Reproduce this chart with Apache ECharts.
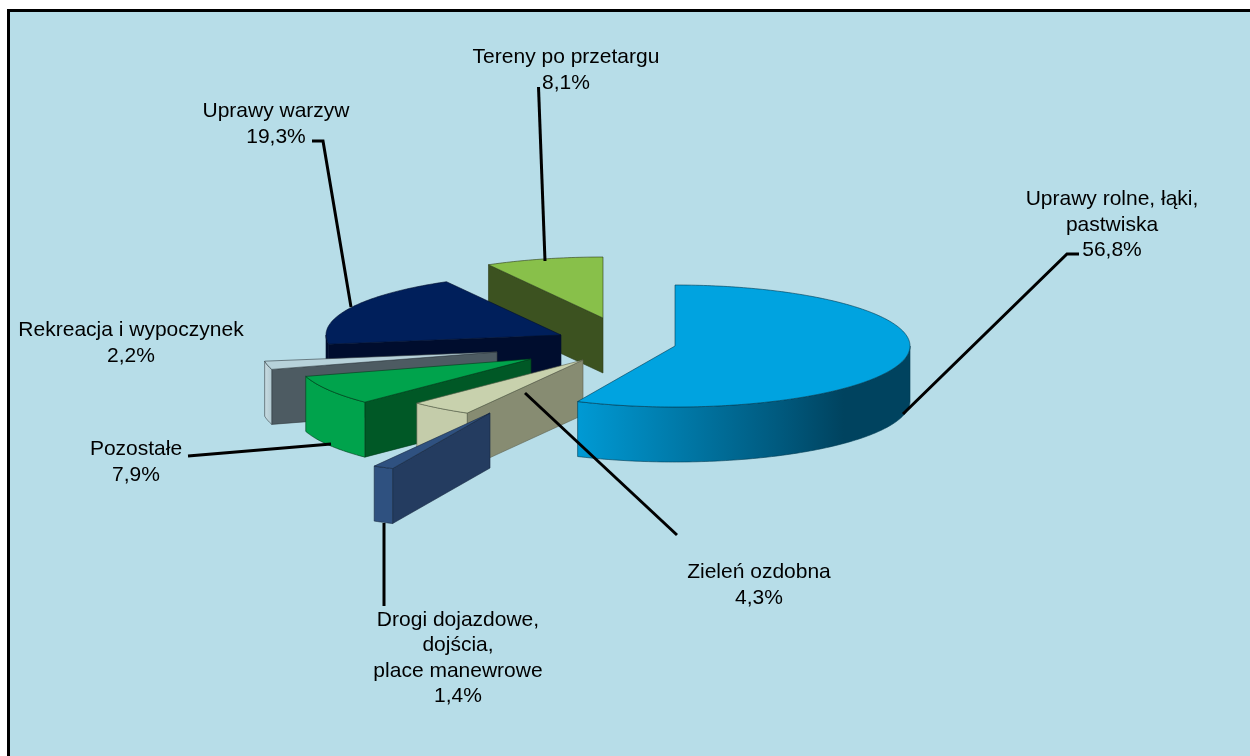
<!DOCTYPE html>
<html>
<head>
<meta charset="utf-8">
<style>html,body{margin:0;padding:0;background:#fff}#c{width:1250px;height:756px}</style>
<script src="https://cdn.jsdelivr.net/npm/echarts@6/dist/echarts.min.js"></script>
</head>
<body>
<div id="c"></div>
<script>
// --- data, clockwise from 12 o'clock, in pie order
const categories = ['Uprawy rolne, łąki,\npastwiska', 'Drogi dojazdowe,\ndojścia,\nplace manewrowe', 'Zieleń ozdobna', 'Pozostałe', 'Rekreacja i wypoczynek', 'Uprawy warzyw', 'Tereny po przetargu'];
const shares = [56.8, 1.4, 4.3, 7.9, 2.2, 19.3, 8.1];

// --- layout
const pie = { cx: 560, cy: 340, rx: 235, ry: 61, depth: 55 };
const explode = [[115, 6], [-70, 73], [23, 20], [-29, 19], [-63, 12], [1, -5], [43, -22]];
const paintOrder = [6, 5, 4, 3, 2, 0, 1];
const labelAt = [[1112, 225], [458, 658], [759, 585], [136, 462], [131, 343], [276, 124], [566, 70]];
const leaders = [
  [[1079, 254], [1067, 254], [903, 414]],
  [[384, 523], [384, 606]],
  [[525, 393], [677, 535]],
  [[188, 456], [331, 444]],
  null,
  [[312, 141], [323, 141], [351, 307]],
  [[538.5, 87], [545, 261]]
];
const colors = [
  { top: '#00a3e0', cut: '#004a68', edge: '#003a52', wall: [[0, '#009ad4'], [0.62, '#00587c'], [0.8, '#00435f'], [1, '#00435f']] },
  { top: '#2f5180', cut: '#243c60', edge: '#16263f', wall: [[0, '#2f5180'], [1, '#2f5180']] },
  { top: '#c8d1ad', cut: '#878c72', edge: '#5c604d', wall: [[0, '#c4ccaa'], [1, '#c4ccaa']] },
  { top: '#00a34c', cut: '#005826', edge: '#003d1a', wall: [[0, '#00a34c'], [1, '#00a34c']] },
  { top: '#b7d2da', cut: '#4d5b62', edge: '#333d42', wall: [[0, '#c9dde3'], [1, '#b0c8d0']] },
  { top: '#001f5b', cut: '#000d2e', edge: '#000d2e', wall: [[0, '#000d2e'], [1, '#000d2e']] },
  { top: '#88c04a', cut: '#3c5220', edge: '#2b3a17', wall: [[0, '#3c5220'], [1, '#3c5220']] }
];

// --- cumulative start / end angles, in degrees clockwise from the top
const total = shares.reduce((a, b) => a + b, 0);
let running = 0;
const spans = shares.map(v => { const a = running; running += v / total * 360; return [a, running]; });

function rimPoint(i, deg, drop) {
  const t = deg * Math.PI / 180;
  return [pie.cx + explode[i][0] + pie.rx * Math.sin(t), pie.cy + explode[i][1] - pie.ry * Math.cos(t) + drop];
}
function arc(i, from, to, drop) {
  const pts = [], n = Math.max(2, Math.ceil(to - from));
  for (let k = 0; k <= n; k++) pts.push(rimPoint(i, from + (to - from) * k / n, drop));
  return pts;
}
function face(points, fill, edge) {
  return { type: 'polygon', shape: { points }, style: { fill, stroke: edge, lineWidth: 0.6 } };
}
function renderSlice(params, api) {
  const i = api.value(0);
  const [a0, a1] = spans[i];
  const c = colors[i];
  const apex = [pie.cx + explode[i][0], pie.cy + explode[i][1]];
  const apexLow = [apex[0], apex[1] + pie.depth];
  const children = [];
  const side = a => [apex, rimPoint(i, a, 0), rimPoint(i, a, pie.depth), apexLow];
  if (Math.sin(a0 * Math.PI / 180) < -1e-6) children.push(face(side(a0), c.cut, c.edge));
  if (Math.sin(a1 * Math.PI / 180) > 1e-6) children.push(face(side(a1), c.cut, c.edge));
  const w0 = Math.max(a0, 90), w1 = Math.min(a1, 270);
  if (w1 > w0) {
    const fill = new echarts.graphic.LinearGradient(0, 0, 1, 0, c.wall.map(s => ({ offset: s[0], color: s[1] })));
    children.push(face(arc(i, w0, w1, 0).concat(arc(i, w0, w1, pie.depth).reverse()), fill, c.edge));
  }
  children.push(face([apex].concat(arc(i, a0, a1, 0)), c.top, c.edge));
  return { type: 'group', children };
}
function pct(v) { return v.toFixed(1).replace('.', ',') + '%'; }
function renderLabel(params, api) {
  const i = api.value(0);
  const children = [];
  if (leaders[i]) children.push({
    type: 'polyline', shape: { points: leaders[i] },
    style: { fill: 'none', stroke: '#000', lineWidth: 3, lineJoin: 'miter' }
  });
  children.push({
    type: 'text', x: labelAt[i][0], y: labelAt[i][1],
    style: {
      text: categories[i] + '\n' + pct(shares[i]),
      fill: '#000', font: '21px "Liberation Sans", Arial, sans-serif',
      lineHeight: 25.5, align: 'center', verticalAlign: 'middle'
    }
  });
  return { type: 'group', children };
}

const chart = echarts.init(document.getElementById('c'), null, { renderer: 'canvas' });
chart.setOption({
  animation: false,
  backgroundColor: '#ffffff',
  graphic: [{
    type: 'rect', z: 0, silent: true,
    shape: { x: 8.5, y: 10.5, width: 1300, height: 800 },
    style: { fill: '#b7dde8', stroke: '#000', lineWidth: 3 }
  }],
  series: [
    { type: 'custom', coordinateSystem: 'none', silent: true, clip: false, z: 2, renderItem: renderSlice,
      data: paintOrder.map(i => ({ name: categories[i], value: [i, shares[i]] })) },
    { type: 'custom', coordinateSystem: 'none', silent: true, clip: false, z: 3, renderItem: renderLabel,
      data: categories.map((n, i) => ({ name: n, value: [i, shares[i]] })) }
  ]
});
</script>
</body>
</html>
